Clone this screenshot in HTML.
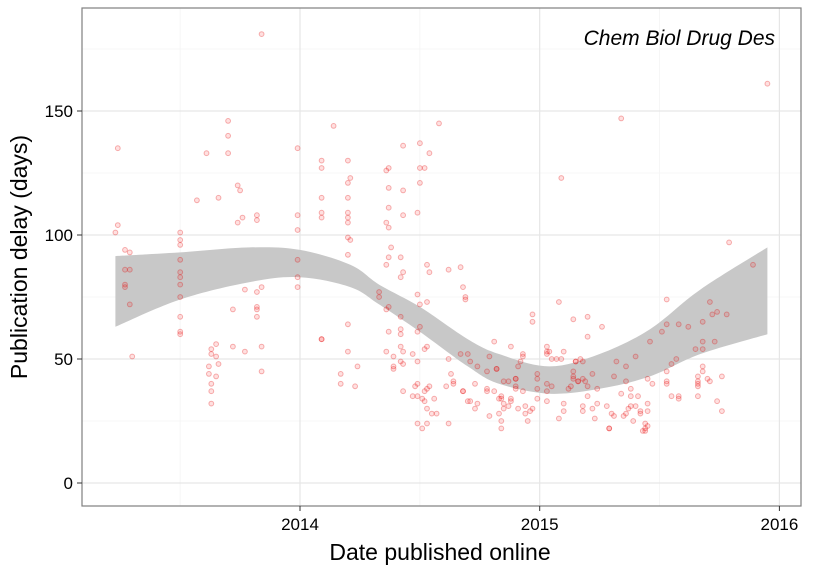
<!DOCTYPE html>
<html><head><meta charset="utf-8"><style>
html,body{margin:0;padding:0;background:#fff;}
svg{display:block;font-family:"Liberation Sans",Arial,sans-serif;}
</style></head><body>
<svg id="chart" width="825" height="570">
<rect x="0" y="0" width="825" height="570" fill="#fff"/>
<g id="grid"></g>
<g id="ribbon"></g>
<g id="points"></g>
<rect x="82" y="8" width="719" height="498" fill="none" stroke="#7f7f7f" stroke-width="1.2"/>
<g id="axes"></g>
<text x="775" y="45" text-anchor="end" font-size="21" font-style="italic" fill="#000">Chem Biol Drug Des</text>
<text x="440" y="560" text-anchor="middle" font-size="23" fill="#000">Date published online</text>
<text transform="translate(27,257) rotate(-90)" text-anchor="middle" font-size="23" fill="#000">Publication delay (days)</text>
</svg>
<script>
const xTicks=[2014,2015,2016];
const xTickLabels=["2014","2015","2016"];
const xMinor=[2013.5,2014.5,2015.5];
const yTicks=[0,50,100,150];
const yMinor=[25,75,125,175];
const bandYears=[2013.23,2013.5,2013.79,2014.0,2014.21,2014.33,2014.5,2014.7,2014.83,2015.04,2015.25,2015.46,2015.67,2015.95];
const bandUpper=[91.5,93,95,94,88,80,71,58,52,47,52,62,78,95];
const bandLower=[63,74,81,83,79,72,61,47,40,36,38,43,52,60];
const ptYears=[2013.84,2013.24,2013.7,2013.7,2013.7,2013.61,2013.99,2013.57,2013.66,2013.74,2013.75,2013.74,2013.76,2013.82,2013.82,2013.99,2013.99,2013.24,2013.23,2013.27,2013.29,2013.27,2013.29,2013.27,2013.27,2013.29,2013.3,
2013.5,2013.5,2013.5,2013.5,2013.5,2013.5,2013.5,2013.5,2013.5,2013.5,2013.5,
2013.63,2013.63,2013.65,2013.65,2013.66,2013.62,2013.62,2013.65,2013.63,2013.63,2013.63,
2013.72,2013.72,2013.77,2013.77,2013.82,2013.84,2013.82,2013.82,2013.82,2013.84,2013.84,2013.99,2013.99,2013.99,2014.09,
2014.14,2014.58,2014.09,2014.09,2014.2,2014.21,2014.2,2014.09,2014.2,2014.09,2014.09,2014.2,2014.2,2014.2,2014.2,2014.21,2014.2,
2014.37,2014.36,2014.37,2014.37,2014.36,2014.37,2014.43,2014.5,2014.54,2014.5,2014.52,2014.5,2014.43,2014.43,2014.49,
2014.38,2014.37,2014.36,2014.42,2014.43,2014.42,2014.53,2014.54,2014.62,2014.67,2014.68,2014.69,2014.69,
2014.33,2014.33,2014.37,2014.36,2014.49,2014.53,2014.5,2014.42,2014.42,2014.42,2014.5,2014.49,2014.37,2014.36,2014.39,
2014.2,2014.09,2014.2,2014.24,2014.17,2014.17,2014.23,2014.42,2014.43,2014.47,2014.53,2014.52,2014.49,
2014.39,2014.39,2014.42,2014.43,2014.43,2014.49,2014.48,2014.53,2014.54,2014.52,2014.47,2014.49,2014.51,2014.52,2014.53,2014.56,2014.55,2014.57,2014.49,2014.51,2014.53,2014.62,
2014.62,2014.63,2014.61,2014.64,2014.64,2014.68,2014.7,2014.67,
2015.08,2014.97,2014.97,2015.14,2015.2,2015.26,2015.2,2015.53,2015.71,2015.72,2015.74,2015.53,2015.58,2015.62,2015.68,2015.51,2015.46,2015.68,2015.73,
2014.81,2014.88,2014.7,2014.79,2014.71,2014.74,2014.78,2014.82,2014.82,2014.93,2014.93,2014.92,2014.91,2015.03,2015.04,2015.1,2015.03,2015.03,2015.05,2015.07,2015.09,2015.15,2015.15,2015.17,2015.18,2015.32,2015.36,2015.4,2015.57,2015.65,2015.68,2015.55,2015.68,2015.68,
2014.99,2014.99,2015.14,2015.14,2015.14,2015.22,2015.31,2015.16,2015.18,2015.19,2015.36,2015.45,2015.53,2015.53,2015.53,2015.47,2015.66,2015.66,2015.66,2015.66,2015.7,2015.71,2015.76,
2014.85,2014.87,2014.9,2014.9,2014.9,2014.9,2014.93,2014.99,2015.03,2015.05,2015.03,2015.12,2015.13,2015.16,2015.2,2015.24,2015.38,2015.34,2015.38,2015.41,2015.2,2015.55,2015.58,2015.58,2015.66,
2014.73,2014.78,2014.78,2014.81,2014.68,2014.84,2014.84,2014.88,2014.88,2014.83,2014.85,2014.85,2014.87,2014.91,2014.94,2014.97,2014.96,2014.99,2015.03,
2014.71,2014.74,2014.73,2014.79,2014.83,2014.94,2014.84,2014.95,2014.84,
2015.1,2015.1,2015.08,2015.18,2015.18,2015.22,2015.24,2015.28,2015.23,2015.3,2015.31,2015.29,2015.29,2015.35,2015.36,2015.37,2015.39,2015.4,2015.38,2015.42,2015.42,2015.44,2015.44,2015.45,2015.45,2015.45,2015.44,2015.43,
2015.74,2015.76,2015.95,2015.89,2015.79,2015.78,2015.34,2015.09];
const ptDays=[181,135,146,140,133,133,135,114,115,120,118,105,107,108,106,108,102,104,101,94,93,86,86,80,79,72,51,
101,98,96,90,85,83,80,75,67,61,60,
54,52,56,51,48,47,44,43,40,37,32,
70,55,78,53,77,79,71,70,67,55,45,90,83,79,58,
144,145,130,127,130,123,121,115,115,109,107,109,107,105,99,98,92,
127,126,119,111,105,103,136,137,133,127,127,121,118,108,109,
95,91,88,91,85,83,88,85,86,87,79,75,74,
77,75,71,70,76,73,72,67,62,60,63,61,61,53,51,
64,58,53,47,44,40,39,55,53,52,55,54,49,
47,46,49,48,37,40,39,38,39,37,35,35,34,33,30,34,28,28,24,22,24,24,
50,44,39,41,40,37,33,52,
73,68,65,66,67,63,59,74,73,68,69,64,64,63,65,61,57,57,57,
57,55,52,51,49,47,45,46,46,51,52,49,47,53,53,53,55,52,50,50,50,49,49,50,49,49,47,51,50,54,54,48,47,45,
44,42,45,43,42,44,43,41,42,41,41,42,45,41,40,40,43,41,40,39,42,41,43,
41,41,42,42,39,38,37,38,40,39,37,38,39,41,39,38,38,36,35,35,35,35,35,34,35,
40,38,37,37,37,35,34,34,33,34,32,30,31,30,31,30,29,34,33,
33,32,30,27,28,28,25,25,22,
32,29,26,31,29,30,32,31,26,28,27,22,22,27,28,30,25,31,31,28,29,22,21,23,32,29,24,21,
33,29,161,88,97,68,147,123];
const NS="http://www.w3.org/2000/svg";
function xScale(v){return 300+(v-2014)*239.7;}
function yScale(v){return 483-v*2.48;}
function mk(tag,attrs,parent){const e=document.createElementNS(NS,tag);for(const k in attrs)e.setAttribute(k,attrs[k]);parent.appendChild(e);return e;}
function smoothPath(P,start){
  let d=start?('M'+P[0][0].toFixed(1)+','+P[0][1].toFixed(1)):('L'+P[0][0].toFixed(1)+','+P[0][1].toFixed(1));
  for(let i=0;i<P.length-1;i++){
    const p0=P[Math.max(0,i-1)],p1=P[i],p2=P[i+1],p3=P[Math.min(P.length-1,i+2)];
    const c1x=p1[0]+(p2[0]-p0[0])/6,c1y=p1[1]+(p2[1]-p0[1])/6;
    const c2x=p2[0]-(p3[0]-p1[0])/6,c2y=p2[1]-(p3[1]-p1[1])/6;
    d+='C'+c1x.toFixed(1)+','+c1y.toFixed(1)+' '+c2x.toFixed(1)+','+c2y.toFixed(1)+' '+p2[0].toFixed(1)+','+p2[1].toFixed(1);
  }
  return d;
}
const grid=document.getElementById('grid');
yMinor.forEach(v=>{const l=mk('line',{x1:82,x2:801,y1:yScale(v),y2:yScale(v),stroke:'#f4f4f4','stroke-width':0.8},grid);

});
xMinor.forEach(v=>{const l=mk('line',{x1:xScale(v),x2:xScale(v),y1:8,y2:506,stroke:'#f4f4f4','stroke-width':0.8},grid);

});
yTicks.forEach(v=>{const l=mk('line',{x1:82,x2:801,y1:yScale(v),y2:yScale(v),stroke:'#e6e6e6','stroke-width':1.2},grid);

});
xTicks.forEach(v=>{const l=mk('line',{x1:xScale(v),x2:xScale(v),y1:8,y2:506,stroke:'#e6e6e6','stroke-width':1.2},grid);

});
const up=bandYears.map((yr,i)=>[xScale(yr),yScale(bandUpper[i])]);
const lo=bandYears.map((yr,i)=>[xScale(yr),yScale(bandLower[i])]).reverse();
const d=smoothPath(up,true)+smoothPath(lo,false)+'Z';
const rib=mk('path',{d:d,fill:'#c8c8c8'},document.getElementById('ribbon'));


const pts=document.getElementById('points');
ptYears.forEach((yr,i)=>{const c=mk('circle',{cx:xScale(yr).toFixed(1),cy:yScale(ptDays[i]).toFixed(1),r:2.4,fill:'rgba(255,0,0,0.12)',stroke:'rgba(225,0,0,0.3)','stroke-width':1},pts);

});
const axes=document.getElementById('axes');
yTicks.forEach(v=>{const t=mk('line',{x1:77,x2:82,y1:yScale(v),y2:yScale(v),stroke:'#333','stroke-width':1},axes);


const tx=mk('text',{x:73,y:yScale(v)+6,'text-anchor':'end','font-size':17,fill:'#000'},axes);tx.textContent=String(v);

});
xTicks.forEach((v,i)=>{const t=mk('line',{x1:xScale(v),x2:xScale(v),y1:506,y2:511,stroke:'#333','stroke-width':1},axes);


const tx=mk('text',{x:xScale(v),y:530,'text-anchor':'middle','font-size':17,fill:'#000'},axes);tx.textContent=xTickLabels[i];

});
</script>
</body></html>
